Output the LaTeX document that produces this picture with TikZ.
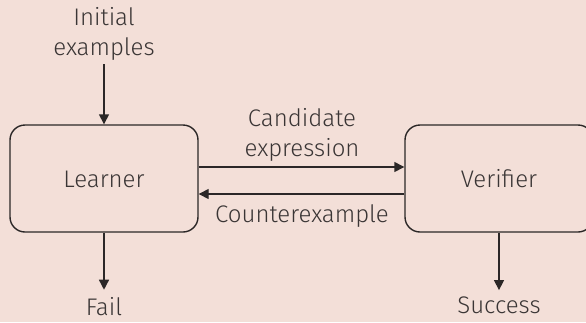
\documentclass[tikz,border=0pt]{standalone}
\usepackage{fontspec}
\setmainfont{Fira Sans Light}
\usetikzlibrary{arrows.meta}
\definecolor{bgc}{HTML}{F3DFD8}
\definecolor{ink}{HTML}{2B2727}
\definecolor{txt}{HTML}{3A3535}
\tikzset{
  box/.style={draw=ink, line width=1.4pt, rounded corners=15pt, minimum width=188pt, minimum height=107pt, inner sep=0pt, text=txt, font=\fontsize{24}{30}\selectfont},
  lbl/.style={text=txt, font=\fontsize{24}{30}\selectfont, align=center, inner sep=0pt},
  arr/.style={draw=ink, line width=1.4pt, -{Triangle[length=10pt,width=10pt]}}
}
\begin{document}
\begin{tikzpicture}[x=1pt,y=-1pt]
\fill[bgc] (0,0) rectangle (586,322);
\clip (0,0) rectangle (586,322);
\useasboundingbox (0,0) rectangle (586,322);
\node[box] (learner) at (104,178.5) {};
\node[lbl, anchor=base] at (104,187) {Learner};
\node[box] (verifier) at (499,178.5) {};
\node[lbl, anchor=base] at (499,187) {Verifier};
\node[lbl, anchor=base] (init) at (104,25) {Initial};
\node[lbl, anchor=base] (initb) at (104,55) {examples};
\node[lbl, anchor=base] (cand) at (302,126) {Candidate};
\node[lbl, anchor=base] (candb) at (302,156) {expression};
\node[lbl, anchor=base] (counter) at (302,222) {Counterexample};
\node[lbl, anchor=base] (fail) at (104,315) {Fail};
\node[lbl, anchor=base] (succ) at (499,313) {Success};
\coordinate (c1a) at (learner.east |- 0,167);
\coordinate (c1b) at (verifier.west |- 0,167);
\coordinate (c2a) at (verifier.west |- 0,194);
\coordinate (c2b) at (learner.east |- 0,194);
\draw[arr] (c1a) -- (c1b);
\draw[arr] (c2a) -- (c2b);
\draw[arr, shorten <=4pt] (initb.south) -- (learner.north);
\draw[arr, shorten >=7pt] (learner.south) -- (fail.north);
\draw[arr, shorten >=6pt] (verifier.south) -- (succ.north);
\end{tikzpicture}
\end{document}
